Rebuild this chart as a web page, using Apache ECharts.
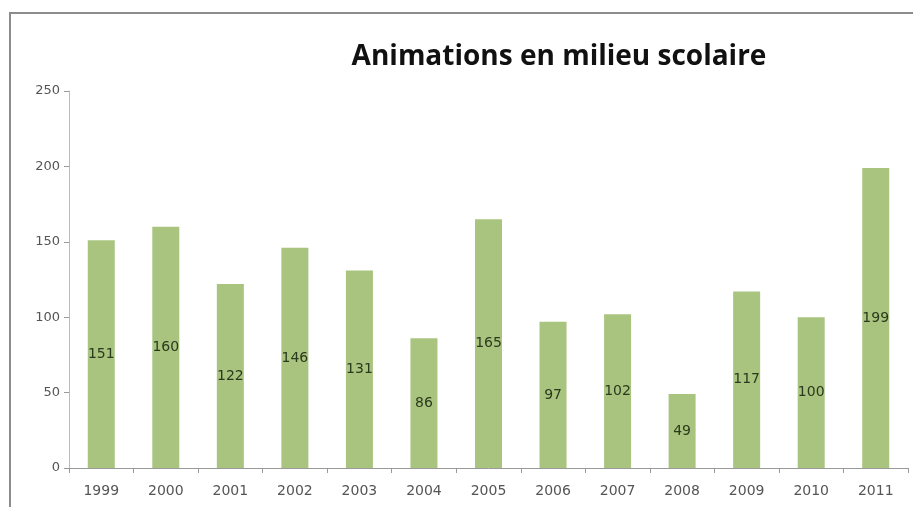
<!DOCTYPE html>
<html>
<head>
<meta charset="utf-8">
<script src="https://cdn.jsdelivr.net/npm/echarts@6/dist/echarts.min.js"></script>
<style>
  html, body { margin: 0; padding: 0; background: #fff; }
  #frame { position: absolute; left: 9px; top: 12px; width: 920px; height: 520px; border: 2px solid #8c8c8c; box-sizing: border-box; }
  #chart { width: 913px; height: 507px; position: absolute; left: 0; top: 0; }
</style>
</head>
<body>
<div id="frame"></div>
<div id="chart"></div>
<script>
const years = ['1999', '2000', '2001', '2002', '2003', '2004', '2005', '2006', '2007', '2008', '2009', '2010', '2011'];
const animations = [151, 160, 122, 146, 131, 86, 165, 97, 102, 49, 117, 100, 199];

const chart = echarts.init(document.getElementById('chart'));

chart.setOption({
  animation: false,
  title: {
    text: 'Animations en milieu scolaire',
    left: 554,
    top: 38,
    textAlign: 'center',
    textStyle: { fontFamily: 'Open Sans', fontWeight: 'bold', fontSize: 28, color: '#111' }
  },
  grid: { left: 69, right: 5, top: 91, bottom: 39, containLabel: false },
  xAxis: {
    type: 'category',
    data: years,
    axisLine: { lineStyle: { color: '#999' } },
    axisTick: { show: true, length: 5, lineStyle: { color: '#999' } },
    axisLabel: { color: '#555', fontFamily: 'DejaVu Sans', fontSize: 14, margin: 16 }
  },
  yAxis: {
    type: 'value',
    min: 0,
    max: 250,
    interval: 50,
    splitLine: { show: false },
    axisLine: { show: true, lineStyle: { color: '#bbb' } },
    axisTick: { show: true, length: 5, lineStyle: { color: '#999' } },
    axisLabel: { color: '#555', fontFamily: 'DejaVu Sans', fontSize: 13, margin: 9 }
  },
  series: [{
    type: 'bar',
    data: animations,
    barWidth: 27,
    itemStyle: { color: '#A8C47E' },
    label: {
      show: true,
      position: 'inside',
      color: '#2b3a1e',
      fontFamily: 'DejaVu Sans',
      fontSize: 14
    }
  }]
});
</script>
</body>
</html>
